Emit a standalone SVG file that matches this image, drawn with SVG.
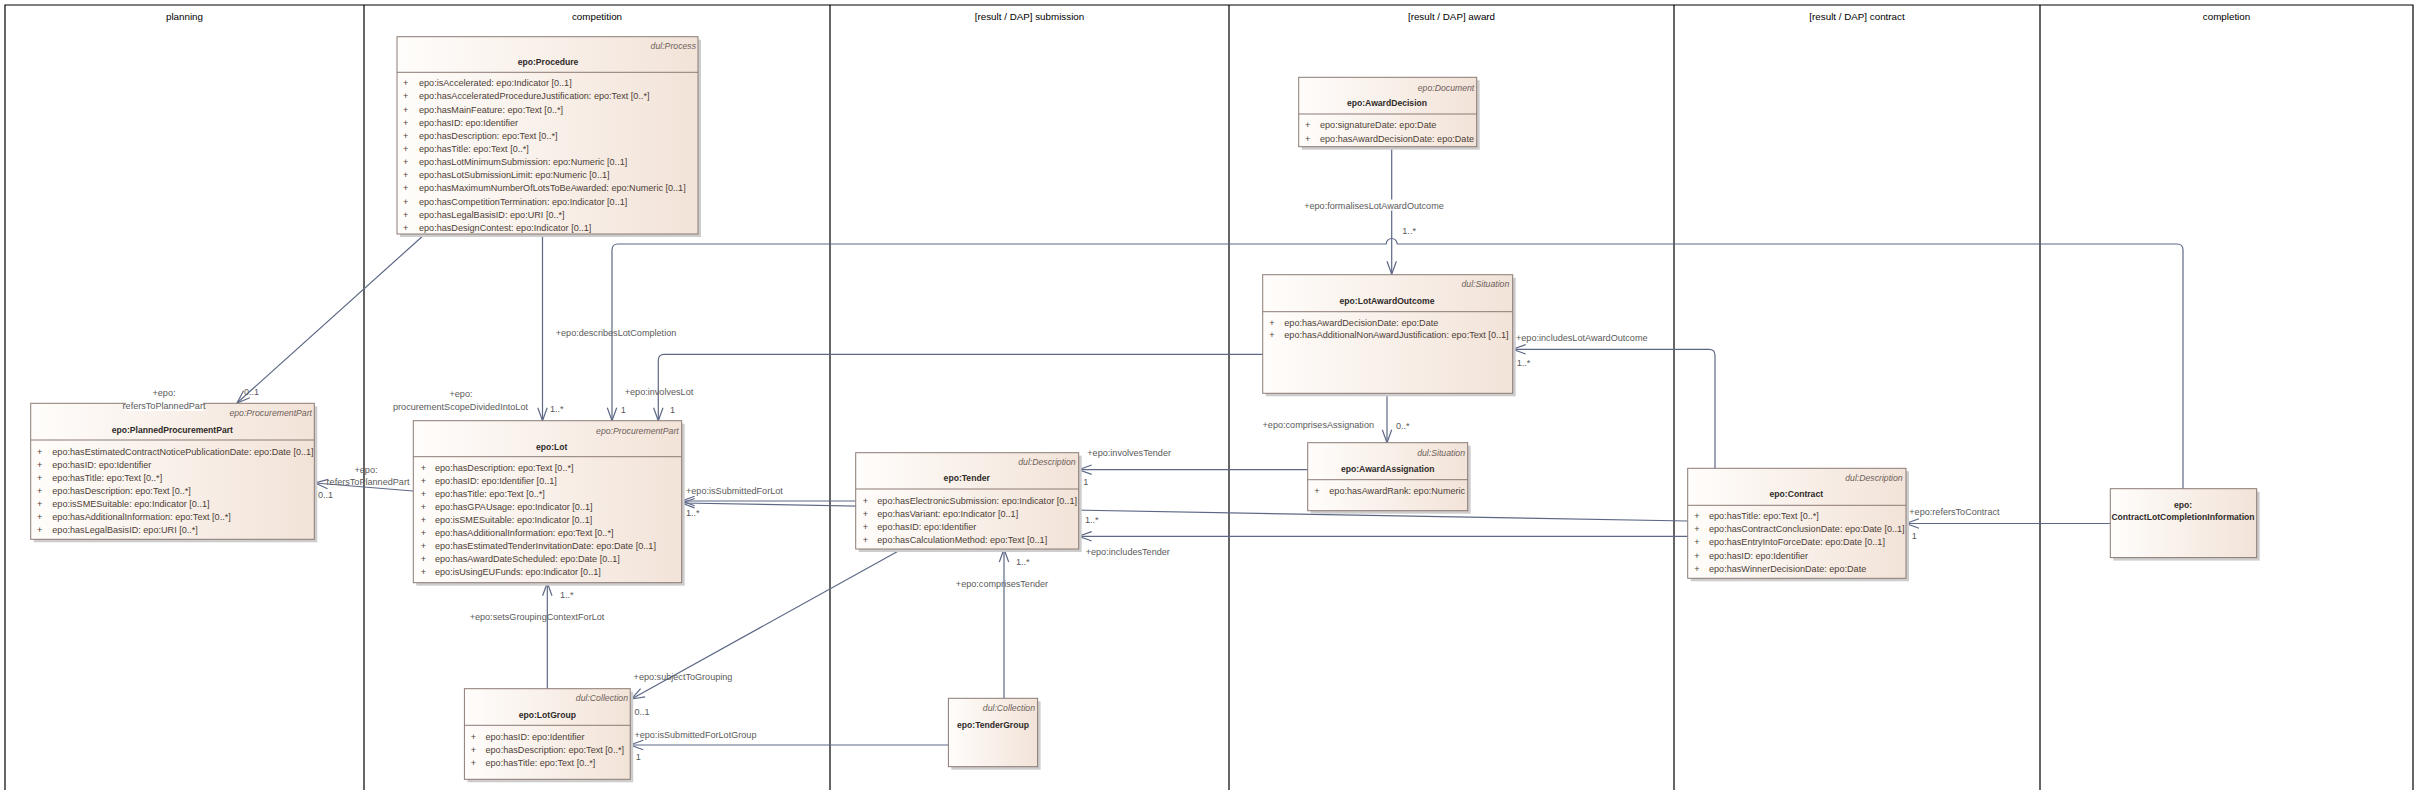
<svg xmlns="http://www.w3.org/2000/svg" width="2418" height="790" viewBox="0 0 2418 790">
<style>
text{font-family:"Liberation Sans",Arial,sans-serif;font-size:9.1px}
.lane{stroke:#000;stroke-width:1.2;fill:none}
.hdr{fill:#000;text-anchor:middle;font-size:9.8px}
.box{fill:url(#gb);stroke:#8c7a74;stroke-width:1}
.sh{fill:#cdcdcd}
.sep{stroke:#8c7a74;stroke-width:1}
.st{font-style:italic;fill:#6e5f5a;text-anchor:end;font-size:8.7px}
.tt{font-weight:bold;fill:#2e2a28;text-anchor:middle;font-size:8.6px}
.at{fill:#4d3e36}
.c{fill:none;stroke:#5d6886;stroke-width:1.2}
.lb{fill:#5a5a5a}
.m{text-anchor:middle}
.e{text-anchor:end}
</style>
<defs>
<linearGradient id="gb" x1="0" y1="0" x2="1" y2="0">
<stop offset="0" stop-color="#fffdfb"/>
<stop offset="1" stop-color="#f2e3d8"/>
</linearGradient>
<marker id="ar" markerUnits="userSpaceOnUse" markerWidth="16" markerHeight="12" viewBox="0 0 16 12" refX="14" refY="6" orient="auto" overflow="visible">
<path d="M1,1.3 L14,6 L1,10.7" fill="none" stroke="#5d6886" stroke-width="1.2"/>
</marker>
</defs>
<rect width="2418" height="790" fill="#fff"/>
<g id="lanes">
<path class="lane" d="M5,790 V5 H2413 V790 M364,5 V790 M830,5 V790 M1229,5 V790 M1674,5 V790 M2040,5 V790"/>
<text class="hdr" x="184.5" y="20">planning</text>
<text class="hdr" x="597" y="20">competition</text>
<text class="hdr" x="1029.5" y="20">[result / DAP] submission</text>
<text class="hdr" x="1451.5" y="20">[result / DAP] award</text>
<text class="hdr" x="1857" y="20">[result / DAP] contract</text>
<text class="hdr" x="2226.5" y="20">completion</text>
</g>
<g id="connectors">
<path class="c" d="M425,234 L237,403" marker-end="url(#ar)"/>
<path class="c" d="M413,491 L315,483" marker-end="url(#ar)"/>
<path class="c" d="M542.5,234 L542.5,420.7" marker-end="url(#ar)"/>
<path class="c" d="M2183,488.7 L2183,250 Q2183,244 2177,244 L1397.2,244 A5.5,5.5 0 0 0 1386.2,244 L618,244 Q612,244 612,250 L612,420.7" marker-end="url(#ar)"/>
<path class="c" d="M1262.7,354.3 L664.3,354.3 Q658.3,354.3 658.3,360.3 L658.3,420.7" marker-end="url(#ar)"/>
<path class="c" d="M547.3,688.7 L547.3,582.7" marker-end="url(#ar)"/>
<path class="c" d="M855.7,501 L681.7,501" marker-end="url(#ar)"/>
<path class="c" d="M1687.7,521 L681.7,503" marker-end="url(#ar)"/>
<path class="c" d="M902,549 L631.5,699" marker-end="url(#ar)"/>
<path class="c" d="M948.4,745 L630.2,745" marker-end="url(#ar)"/>
<path class="c" d="M1004,698.3 L1004,549" marker-end="url(#ar)"/>
<path class="c" d="M1307.7,469.7 L1078.7,469.7" marker-end="url(#ar)"/>
<path class="c" d="M1687.7,536.3 L1078.7,536.3" marker-end="url(#ar)"/>
<path class="c" d="M1391.7,146.7 L1391.7,274.3" marker-end="url(#ar)"/>
<path class="c" d="M1387,393.3 L1387,442.7" marker-end="url(#ar)"/>
<path class="c" d="M1715,468.3 L1715,355.3 Q1715,349.3 1709,349.3 L1512.7,349.3" marker-end="url(#ar)"/>
<path class="c" d="M2110.3,523.5 L1906,523.5" marker-end="url(#ar)"/>
</g>
<g id="Procedure">
<rect class="sh" x="400" y="39.7" width="301" height="197.3"/>
<rect class="box" x="397" y="36.7" width="301" height="197.3"/>
<line class="sep" x1="397" y1="72.3" x2="698" y2="72.3"/>
<text class="st" x="696" y="49.2">dul:Process</text>
<text class="tt" x="548" y="65.2">epo:Procedure</text>
<g class="at">
<text x="403" y="86.2">+</text><text x="419" y="86.2">epo:isAccelerated: epo:Indicator [0..1]</text>
<text x="403" y="99.4">+</text><text x="419" y="99.4">epo:hasAcceleratedProcedureJustification: epo:Text [0..*]</text>
<text x="403" y="112.5">+</text><text x="419" y="112.5">epo:hasMainFeature: epo:Text [0..*]</text>
<text x="403" y="125.7">+</text><text x="419" y="125.7">epo:hasID: epo:Identifier</text>
<text x="403" y="138.8">+</text><text x="419" y="138.8">epo:hasDescription: epo:Text [0..*]</text>
<text x="403" y="152">+</text><text x="419" y="152">epo:hasTitle: epo:Text [0..*]</text>
<text x="403" y="165.1">+</text><text x="419" y="165.1">epo:hasLotMinimumSubmission: epo:Numeric [0..1]</text>
<text x="403" y="178.3">+</text><text x="419" y="178.3">epo:hasLotSubmissionLimit: epo:Numeric [0..1]</text>
<text x="403" y="191.4">+</text><text x="419" y="191.4">epo:hasMaximumNumberOfLotsToBeAwarded: epo:Numeric [0..1]</text>
<text x="403" y="204.6">+</text><text x="419" y="204.6">epo:hasCompetitionTermination: epo:Indicator [0..1]</text>
<text x="403" y="217.7">+</text><text x="419" y="217.7">epo:hasLegalBasisID: epo:URI [0..*]</text>
<text x="403" y="230.8">+</text><text x="419" y="230.8">epo:hasDesignContest: epo:Indicator [0..1]</text>
</g>
</g>
<g id="PlannedProcurementPart">
<rect class="sh" x="33.7" y="406.3" width="283.6" height="136"/>
<rect class="box" x="30.7" y="403.3" width="283.6" height="136"/>
<line class="sep" x1="30.7" y1="440" x2="314.3" y2="440"/>
<text class="st" x="312" y="416.2">epo:ProcurementPart</text>
<text class="tt" x="172.3" y="432.5">epo:PlannedProcurementPart</text>
<g class="at">
<text x="37" y="454.5">+</text><text x="52.3" y="454.5">epo:hasEstimatedContractNoticePublicationDate: epo:Date [0..1]</text>
<text x="37" y="467.5">+</text><text x="52.3" y="467.5">epo:hasID: epo:Identifier</text>
<text x="37" y="480.5">+</text><text x="52.3" y="480.5">epo:hasTitle: epo:Text [0..*]</text>
<text x="37" y="493.5">+</text><text x="52.3" y="493.5">epo:hasDescription: epo:Text [0..*]</text>
<text x="37" y="506.5">+</text><text x="52.3" y="506.5">epo:isSMESuitable: epo:Indicator [0..1]</text>
<text x="37" y="519.5">+</text><text x="52.3" y="519.5">epo:hasAdditionalInformation: epo:Text [0..*]</text>
<text x="37" y="532.5">+</text><text x="52.3" y="532.5">epo:hasLegalBasisID: epo:URI [0..*]</text>
</g>
</g>
<g id="Lot">
<rect class="sh" x="416.3" y="423.7" width="268.4" height="162"/>
<rect class="box" x="413.3" y="420.7" width="268.4" height="162"/>
<line class="sep" x1="413.3" y1="456.7" x2="681.7" y2="456.7"/>
<text class="st" x="678.7" y="433.5">epo:ProcurementPart</text>
<text class="tt" x="551.7" y="449.5">epo:Lot</text>
<g class="at">
<text x="420.7" y="471.2">+</text><text x="435" y="471.2">epo:hasDescription: epo:Text [0..*]</text>
<text x="420.7" y="484.2">+</text><text x="435" y="484.2">epo:hasID: epo:Identifier [0..1]</text>
<text x="420.7" y="497.2">+</text><text x="435" y="497.2">epo:hasTitle: epo:Text [0..*]</text>
<text x="420.7" y="510.2">+</text><text x="435" y="510.2">epo:hasGPAUsage: epo:Indicator [0..1]</text>
<text x="420.7" y="523.2">+</text><text x="435" y="523.2">epo:isSMESuitable: epo:Indicator [0..1]</text>
<text x="420.7" y="536.2">+</text><text x="435" y="536.2">epo:hasAdditionalInformation: epo:Text [0..*]</text>
<text x="420.7" y="549.2">+</text><text x="435" y="549.2">epo:hasEstimatedTenderInvitationDate: epo:Date [0..1]</text>
<text x="420.7" y="562.2">+</text><text x="435" y="562.2">epo:hasAwardDateScheduled: epo:Date [0..1]</text>
<text x="420.7" y="575.2">+</text><text x="435" y="575.2">epo:isUsingEUFunds: epo:Indicator [0..1]</text>
</g>
</g>
<g id="LotGroup">
<rect class="sh" x="467.4" y="691.7" width="165.8" height="90.6"/>
<rect class="box" x="464.4" y="688.7" width="165.8" height="90.6"/>
<line class="sep" x1="464.4" y1="725.3" x2="630.2" y2="725.3"/>
<text class="st" x="628" y="701.2">dul:Collection</text>
<text class="tt" x="547.3" y="717.5">epo:LotGroup</text>
<g class="at">
<text x="470.7" y="739.5">+</text><text x="485.5" y="739.5">epo:hasID: epo:Identifier</text>
<text x="470.7" y="752.5">+</text><text x="485.5" y="752.5">epo:hasDescription: epo:Text [0..*]</text>
<text x="470.7" y="765.8">+</text><text x="485.5" y="765.8">epo:hasTitle: epo:Text [0..*]</text>
</g>
</g>
<g id="TenderGroup">
<rect class="sh" x="951.4" y="701.3" width="89.2" height="68.4"/>
<rect class="box" x="948.4" y="698.3" width="89.2" height="68.4"/>
<text class="st" x="1035" y="711.2">dul:Collection</text>
<text class="tt" x="993" y="727.5">epo:TenderGroup</text>
</g>
<g id="Tender">
<rect class="sh" x="858.7" y="455.7" width="223" height="96.3"/>
<rect class="box" x="855.7" y="452.7" width="223" height="96.3"/>
<line class="sep" x1="855.7" y1="489" x2="1078.7" y2="489"/>
<text class="st" x="1075.7" y="465.2">dul:Description</text>
<text class="tt" x="966.7" y="481.2">epo:Tender</text>
<g class="at">
<text x="862.7" y="503.5">+</text><text x="877.3" y="503.5">epo:hasElectronicSubmission: epo:Indicator [0..1]</text>
<text x="862.7" y="516.5">+</text><text x="877.3" y="516.5">epo:hasVariant: epo:Indicator [0..1]</text>
<text x="862.7" y="529.5">+</text><text x="877.3" y="529.5">epo:hasID: epo:Identifier</text>
<text x="862.7" y="542.5">+</text><text x="877.3" y="542.5">epo:hasCalculationMethod: epo:Text [0..1]</text>
</g>
</g>
<g id="AwardDecision">
<rect class="sh" x="1301.7" y="80.3" width="178" height="69.4"/>
<rect class="box" x="1298.7" y="77.3" width="178" height="69.4"/>
<line class="sep" x1="1298.7" y1="114" x2="1476.7" y2="114"/>
<text class="st" x="1474.3" y="90.5">epo:Document</text>
<text class="tt" x="1387" y="106.2">epo:AwardDecision</text>
<g class="at">
<text x="1305" y="127.5">+</text><text x="1320" y="127.5">epo:signatureDate: epo:Date</text>
<text x="1305" y="141.8">+</text><text x="1320" y="141.8">epo:hasAwardDecisionDate: epo:Date</text>
</g>
</g>
<g id="LotAwardOutcome">
<rect class="sh" x="1265.7" y="277.7" width="250" height="118.6"/>
<rect class="box" x="1262.7" y="274.7" width="250" height="118.6"/>
<line class="sep" x1="1262.7" y1="311.7" x2="1512.7" y2="311.7"/>
<text class="st" x="1509.3" y="287.2">dul:Situation</text>
<text class="tt" x="1387" y="303.5">epo:LotAwardOutcome</text>
<g class="at">
<text x="1269.3" y="325.5">+</text><text x="1284.3" y="325.5">epo:hasAwardDecisionDate: epo:Date</text>
<text x="1269.3" y="338.2">+</text><text x="1284.3" y="338.2">epo:hasAdditionalNonAwardJustification: epo:Text [0..1]</text>
</g>
</g>
<g id="AwardAssignation">
<rect class="sh" x="1310.7" y="445.7" width="160" height="68"/>
<rect class="box" x="1307.7" y="442.7" width="160" height="68"/>
<line class="sep" x1="1307.7" y1="479.7" x2="1467.7" y2="479.7"/>
<text class="st" x="1465" y="455.5">dul:Situation</text>
<text class="tt" x="1387.7" y="471.5">epo:AwardAssignation</text>
<g class="at">
<text x="1314.3" y="493.5">+</text><text x="1329.3" y="493.5">epo:hasAwardRank: epo:Numeric</text>
</g>
</g>
<g id="Contract">
<rect class="sh" x="1690.7" y="471.3" width="218.3" height="110"/>
<rect class="box" x="1687.7" y="468.3" width="218.3" height="110"/>
<line class="sep" x1="1687.7" y1="505.3" x2="1906" y2="505.3"/>
<text class="st" x="1902.7" y="481.2">dul:Description</text>
<text class="tt" x="1796.3" y="497.2">epo:Contract</text>
<g class="at">
<text x="1694.3" y="518.5">+</text><text x="1709" y="518.5">epo:hasTitle: epo:Text [0..*]</text>
<text x="1694.3" y="532">+</text><text x="1709" y="532">epo:hasContractConclusionDate: epo:Date [0..1]</text>
<text x="1694.3" y="545.2">+</text><text x="1709" y="545.2">epo:hasEntryIntoForceDate: epo:Date [0..1]</text>
<text x="1694.3" y="558.5">+</text><text x="1709" y="558.5">epo:hasID: epo:Identifier</text>
<text x="1694.3" y="571.5">+</text><text x="1709" y="571.5">epo:hasWinnerDecisionDate: epo:Date</text>
</g>
</g>
<g id="ContractLotCompletionInformation">
<rect class="sh" x="2113.3" y="491.7" width="146.4" height="68.9"/>
<rect class="box" x="2110.3" y="488.7" width="146.4" height="68.9"/>
<text class="tt" x="2183" y="507.5">epo:</text>
<text class="tt" x="2183" y="520">ContractLotCompletionInformation</text>
</g>
<g id="connector-labels">
<text class="lb m" x="164" y="395.5">+epo:</text>
<rect x="126" y="400" width="77" height="11" fill="#fff"/>
<text class="lb m" x="164" y="409">refersToPlannedPart</text>
<text class="lb" x="244" y="395">0..1</text>
<text class="lb m" x="366" y="472.5">+epo:</text>
<text class="lb m" x="368" y="485">refersToPlannedPart</text>
<text class="lb" x="318" y="497.5">0..1</text>
<text class="lb m" x="461" y="396.5">+epo:</text>
<text class="lb e" x="528" y="410">procurementScopeDividedIntoLot</text>
<text class="lb" x="550" y="411.5">1..*</text>
<text class="lb m" x="616" y="336">+epo:describesLotCompletion</text>
<text class="lb" x="620.7" y="412.5">1</text>
<text class="lb m" x="659" y="395">+epo:involvesLot</text>
<text class="lb" x="670" y="412.5">1</text>
<text class="lb m" x="537" y="619.5">+epo:setsGroupingContextForLot</text>
<text class="lb" x="560" y="598">1..*</text>
<text class="lb" x="686" y="493.5">+epo:isSubmittedForLot</text>
<text class="lb" x="686" y="516">1..*</text>
<text class="lb" x="633.6" y="679.5">+epo:subjectToGrouping</text>
<text class="lb" x="634.4" y="715">0..1</text>
<text class="lb" x="634.4" y="737.5">+epo:isSubmittedForLotGroup</text>
<text class="lb" x="635.7" y="760">1</text>
<text class="lb m" x="1002" y="586.5">+epo:comprisesTender</text>
<text class="lb" x="1016" y="565">1..*</text>
<text class="lb" x="1087.3" y="456">+epo:involvesTender</text>
<text class="lb" x="1083.3" y="484.5">1</text>
<text class="lb" x="1085.7" y="555">+epo:includesTender</text>
<text class="lb" x="1085" y="522.5">1..*</text>
<rect x="1304" y="199.5" width="140" height="11" fill="#fff"/>
<text class="lb m" x="1374" y="208.5">+epo:formalisesLotAwardOutcome</text>
<text class="lb" x="1402.3" y="234">1..*</text>
<text class="lb e" x="1374" y="427.8">+epo:comprisesAssignation</text>
<text class="lb" x="1396" y="429">0..*</text>
<text class="lb" x="1516" y="341">+epo:includesLotAwardOutcome</text>
<text class="lb" x="1516.7" y="365.5">1..*</text>
<text class="lb" x="1909.3" y="515">+epo:refersToContract</text>
<text class="lb" x="1911.7" y="538.5">1</text>
</g>
</svg>
